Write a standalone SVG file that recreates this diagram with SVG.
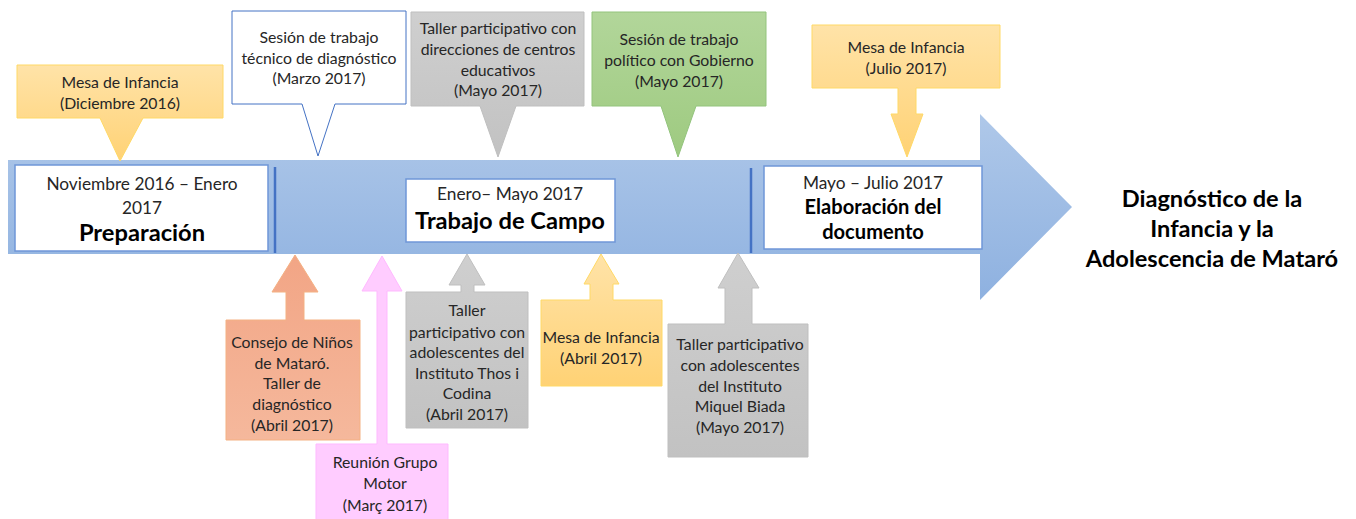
<svg xmlns="http://www.w3.org/2000/svg" width="1356" height="519" viewBox="0 0 1356 519">
<defs>
<linearGradient id="gBar" x1="0" y1="0" x2="0" y2="1"><stop offset="0" stop-color="#AFC8E9"/><stop offset="1" stop-color="#8EB1E0"/></linearGradient>
<linearGradient id="gYel" x1="0" y1="0" x2="0" y2="1"><stop offset="0" stop-color="#FFE3A8"/><stop offset="1" stop-color="#FFD275"/></linearGradient>
<linearGradient id="gGray" x1="0" y1="0" x2="0" y2="1"><stop offset="0" stop-color="#CFCFCF"/><stop offset="1" stop-color="#C2C2C2"/></linearGradient>
<linearGradient id="gGreen" x1="0" y1="0" x2="0" y2="1"><stop offset="0" stop-color="#B2D69A"/><stop offset="1" stop-color="#9ECA80"/></linearGradient>
<linearGradient id="gSal" x1="0" y1="0" x2="0" y2="1"><stop offset="0" stop-color="#F2A585"/><stop offset="1" stop-color="#F5B89C"/></linearGradient>
</defs>
<style>
text{font-family:Lato,"Liberation Sans",sans-serif;text-anchor:middle;fill:#262626;font-size:15.8px}
.ph{font-size:17.3px}
.b{font-weight:bold;fill:#000}
.big{font-size:23.7px}
.mid{font-size:20.1px}
.fin{font-size:23.6px;font-weight:bold;fill:#000}
.yel{fill:url(#gYel);stroke:#FFD966;stroke-width:1}
.gray{fill:url(#gGray);stroke:#BFBFBF;stroke-width:1}
.green{fill:url(#gGreen);stroke:#93C47D;stroke-width:1}
.sal{fill:url(#gSal);stroke:#F4B183;stroke-width:1}
.pink{fill:#FFCCFF;stroke:#FFB9FF;stroke-width:1}
.wht{fill:#fff;stroke:#4472C4;stroke-width:1}
.box{fill:#fff;stroke:#6F96D8;stroke-width:1.5}
.sep{stroke:#4472C4;stroke-width:2.5}
</style>

<g id="timeline">
<path d="M8,160 H980 V114 L1072,207 L980,300 V254 H8 Z" fill="url(#gBar)"/>
<line class="sep" x1="275" y1="167" x2="275" y2="253"/>
<line class="sep" x1="751" y1="168" x2="751" y2="253"/>
</g>

<g id="phase-preparacion">
<rect class="box" x="15" y="165" width="253" height="86"/>
<text class="ph" x="142" y="190">Noviembre 2016 – Enero</text>
<text class="ph" x="142" y="214">2017</text>
<text class="b big" x="142" y="241">Preparación</text>
</g>

<g id="phase-campo">
<rect class="box" x="406" y="179" width="209" height="63"/>
<text class="ph" x="510" y="200">Enero– Mayo 2017</text>
<text class="b big" x="510" y="229">Trabajo de Campo</text>
</g>

<g id="phase-elaboracion">
<rect class="box" x="764" y="166" width="218" height="83"/>
<text class="ph" x="873" y="189">Mayo – Julio 2017</text>
<text class="b mid" x="873" y="214">Elaboración del</text>
<text class="b mid" x="873" y="239">documento</text>
</g>

<g id="result">
<text class="fin" x="1212" y="207">Diagnóstico de la</text>
<text class="fin" x="1212" y="237">Infancia y la</text>
<text class="fin" x="1212" y="267">Adolescencia de Mataró</text>
</g>

<g id="mesa-dic-2016">
<path class="yel" d="M17,65 H223 V118 H143 L120,161 L100,118 H17 Z"/>
<text x="120" y="88">Mesa de Infancia</text>
<text x="120" y="109">(Diciembre 2016)</text>
</g>

<g id="sesion-tecnica">
<path class="wht" d="M232,11 H406 V104 H335 L318,156 L302,104 H232 Z"/>
<text x="319" y="43">Sesión de trabajo</text>
<text x="319" y="64">técnico de diagnóstico</text>
<text x="319" y="84">(Marzo 2017)</text>
</g>

<g id="taller-direcciones">
<path class="gray" d="M411,12 H584 V106 H516 L498,157 L480,106 H411 Z"/>
<text x="498" y="34">Taller participativo con</text>
<text x="498" y="55">direcciones de centros</text>
<text x="498" y="76">educativos</text>
<text x="498" y="96">(Mayo 2017)</text>
</g>

<g id="sesion-politica">
<path class="green" d="M592,12 H766 V106 H696 L678,157 L661,106 H592 Z"/>
<text x="679" y="45">Sesión de trabajo</text>
<text x="679" y="66">político con Gobierno</text>
<text x="679" y="87">(Mayo 2017)</text>
</g>

<g id="mesa-jul-2017">
<path class="yel" d="M812,25 H1000 V88 H916 V114 H923 L907,157 L891,114 H898 V88 H812 Z"/>
<text x="906" y="53">Mesa de Infancia</text>
<text x="906" y="74">(Julio 2017)</text>
</g>

<g id="consejo-ninos">
<path class="sal" d="M226,320 H286 V292 H272 L295,255 L318,292 H304 V320 H360 V440 H226 Z"/>
<text x="292" y="348">Consejo de Niños</text>
<text x="292" y="369">de Mataró.</text>
<text x="292" y="389">Taller de</text>
<text x="292" y="410">diagnóstico</text>
<text x="292" y="431">(Abril 2017)</text>
</g>

<g id="grupo-motor">
<path class="pink" d="M316,444 H377 V291 H362 L382,256 L402,291 H387 V444 H448 V524 H316 Z"/>
<text x="385" y="468">Reunión Grupo</text>
<text x="385" y="489">Motor</text>
<text x="385" y="511">(Març 2017)</text>
</g>

<g id="taller-thos">
<path class="gray" d="M406,292 H461 V285 H449 L467,254 L485,285 H474 V292 H528 V428 H406 Z"/>
<text x="467" y="316">Taller</text>
<text x="467" y="338">participativo con</text>
<text x="467" y="358">adolescentes del</text>
<text x="467" y="379">Instituto Thos i</text>
<text x="467" y="399">Codina</text>
<text x="467" y="420">(Abril 2017)</text>
</g>

<g id="mesa-abr-2017">
<path class="yel" d="M541,300 H590 V284 H584 L601,254 L619,284 H613 V300 H662 V386 H541 Z"/>
<text x="601" y="343">Mesa de Infancia</text>
<text x="601" y="364">(Abril 2017)</text>
</g>

<g id="taller-biada">
<path class="gray" d="M668,324 H725 V288 H718 L738,253 L759,288 H752 V324 H808 V457 H668 Z"/>
<text x="740" y="350">Taller participativo</text>
<text x="740" y="371">con adolescentes</text>
<text x="740" y="392">del Instituto</text>
<text x="740" y="412">Miquel Biada</text>
<text x="740" y="433">(Mayo 2017)</text>
</g>

<g id="connectors"></g>
</svg>
